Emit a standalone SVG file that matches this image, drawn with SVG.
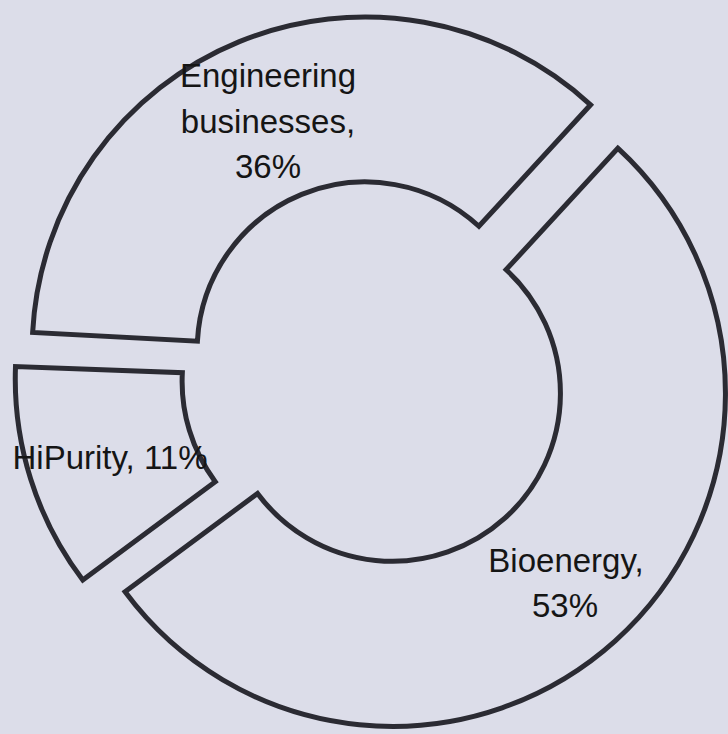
<svg xmlns="http://www.w3.org/2000/svg" width="728" height="734" viewBox="0 0 728 734">
<style>
.seg{fill:none;stroke:#2b2b33;stroke-width:5;stroke-linejoin:miter}
.lbl{font-family:"Liberation Sans",Arial,sans-serif;font-size:33px;fill:#151515;text-anchor:middle}
</style>
<rect width="728" height="734" fill="#dcdde9"/>
<g id="engineering">
<path class="seg" d="M 32.64 332.50 A 333 333 0 0 1 590.58 104.81 L 478.90 226.27 A 168 168 0 0 0 197.41 341.14 Z"/>
<text class="lbl" x="268" y="87">Engineering</text>
<text class="lbl" x="268" y="133">businesses,</text>
<text class="lbl" x="268" y="178">36%</text>
</g>
<g id="bioenergy">
<path class="seg" d="M 617.80 148.20 A 333 333 0 1 1 125.07 591.85 L 257.53 493.48 A 168 168 0 1 0 506.12 269.66 Z"/>
<text class="lbl" x="566" y="572">Bioenergy,</text>
<text class="lbl" x="565" y="617">53%</text>
</g>
<g id="hipurity">
<path class="seg" d="M 82.78 580.04 A 333 333 0 0 1 15.5 366.5 L 182.34 372.72 A 168 168 0 0 0 215.24 481.67 Z"/>
<text class="lbl" x="110" y="469">HiPurity, 11%</text>
</g>
<g id="connectors"/>
</svg>
